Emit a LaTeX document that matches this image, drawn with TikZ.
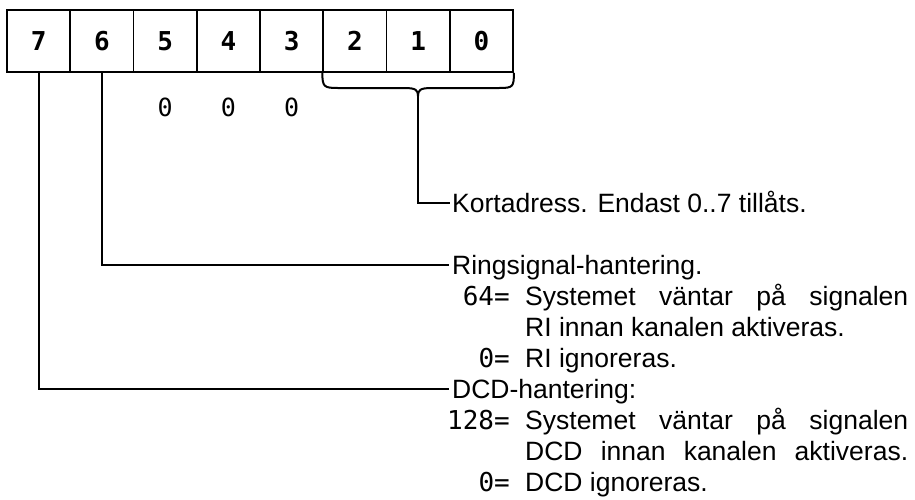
\documentclass[tikz,border=0pt]{standalone}
\usepackage{fontspec}
\setmainfont{Liberation Sans}
\newfontfamily\monofont{DejaVu Sans Mono}
\tikzset{
  bitbox/.style={draw, line width=1.8pt, minimum width=63.25pt, minimum height=62pt, inner sep=0pt,
    font=\monofont\bfseries\fontsize{26}{26}\selectfont},
  zerolbl/.style={inner sep=0pt, font=\monofont\fontsize{25}{25}\selectfont},
  lbl/.style={inner sep=0pt, anchor=west, text height=19pt, text depth=0pt,
    font=\fontsize{26.5}{26.5}\selectfont},
  numlbl/.style={inner sep=0pt, anchor=east, text height=19pt, text depth=0pt,
    font=\monofont\fontsize{26}{26}\selectfont},
  conn/.style={line width=2pt},
}
\begin{document}
\begin{tikzpicture}[x=1pt, y=-1pt]
\useasboundingbox (0,0) rectangle (915,499);
% bit boxes
\foreach \i/\b in {0/7,1/6,2/5,3/4,4/3,5/2,6/1,7/0}{
  \node[bitbox] (b\b) at ({7+63.25*\i+31.625},41) {\b};
}
% zeros
\node[zerolbl] (z5) at (b5.center |- 0,107) {0};
\node[zerolbl] (z4) at (b4.center |- 0,107) {0};
\node[zerolbl] (z3) at (b3.center |- 0,107) {0};
% labels
\node[lbl] (kort) at (452,203) {Kortadress. Endast 0..7 tillåts.};
\node[lbl] (ring) at (452,265) {Ringsignal-hantering.};
\node[numlbl] (n64) at (510,296) {64=};
\node[lbl] (r1) at (525,296) {\makebox[383pt][s]{Systemet väntar på signalen}};
\node[lbl] (r2) at (525,327) {RI innan kanalen aktiveras.};
\node[numlbl] (n0a) at (510,358) {0=};
\node[lbl] (r3) at (525,358) {RI ignoreras.};
\node[lbl] (dcd) at (452,389) {DCD-hantering:};
\node[numlbl] (n128) at (510,420) {128=};
\node[lbl] (d1) at (525,420) {\makebox[383pt][s]{Systemet väntar på signalen}};
\node[lbl] (d2) at (525,451) {\makebox[383pt][s]{DCD innan kanalen aktiveras.}};
\node[numlbl] (n0b) at (510,482) {0=};
\node[lbl] (d3) at (525,482) {DCD ignoreras.};
% brace
\coordinate (tip) at (418,96);
\draw[conn, line join=round]
  (b2.south west) .. controls ++(0,14) and ++(-14,0) .. (338,88)
  -- (404,88) .. controls (416,88) and (418,90) .. (tip)
  .. controls (418,90) and (420,88) .. (432,88)
  -- (499,88) .. controls ++(14,0) and ++(0,14) .. (b0.south east);
% connectors
\draw[conn] (tip) |- ([xshift=-2pt]kort.west);
\draw[conn] (b6.south) |- ([xshift=-3pt]ring.west);
\draw[conn] (b7.south) |- ([xshift=-3pt]dcd.west);
\end{tikzpicture}
\end{document}
